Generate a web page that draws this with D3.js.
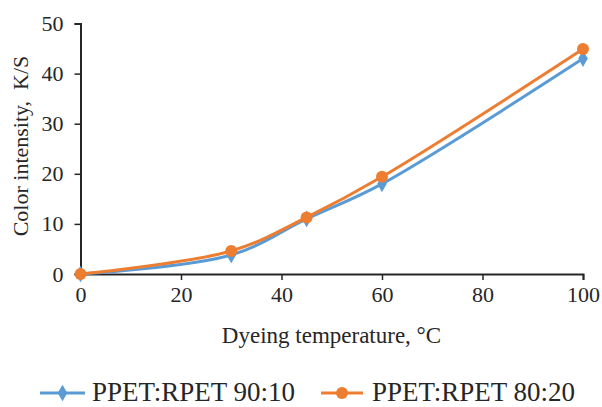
<!DOCTYPE html>
<html><head><meta charset="utf-8">
<script src="https://cdn.jsdelivr.net/npm/d3@7"></script>
<style>body{margin:0;background:#fff}svg{display:block}text{font-family:"Liberation Serif","Times New Roman",serif;fill:#262626}</style>
</head><body>
<svg id="c" width="602" height="407"></svg>
<script>
const temps = [0, 30, 45, 60, 100];
const series90 = [0, 3.8, 11.0, 18.0, 43.0];
const series80 = [0, 4.6, 11.3, 19.4, 44.9];
const seriesNames = ["PPET:RPET 90:10", "PPET:RPET 80:20"];
const xTicks = [0, 20, 40, 60, 80, 100];
const yTicks = [0, 10, 20, 30, 40, 50];
const xTitle = "Dyeing temperature, \u00B0C";
const yTitle = "Color intensity,\u00A0 K/S";

const svg = d3.select("#c");
const x = d3.scaleLinear().domain([0, 100]).range([80.5, 583]);
const y = d3.scaleLinear().domain([0, 50]).range([274, 23.5]);
const fs = 22;

const xAxis = svg.append("g").attr("transform", "translate(0,274)")
  .call(d3.axisBottom(x).tickValues(xTicks).tickSize(6).tickPadding(6));
const yAxis = svg.append("g").attr("transform", "translate(80.5,0)")
  .call(d3.axisLeft(y).tickValues(yTicks).tickSize(6).tickPadding(11));
[xAxis, yAxis].forEach(g => {
  g.selectAll("path.domain").attr("stroke", "#262626").attr("stroke-width", 2);
  g.selectAll(".tick line").attr("stroke", "#262626").attr("stroke-width", 1.5);
  g.selectAll(".tick text").style("font-family", "Liberation Serif").style("font-size", fs + "px").attr("fill", "#262626");
});

svg.append("text").attr("x", 331.5).attr("y", 343).attr("text-anchor", "middle").style("font-size", "23px").text(xTitle);
svg.append("text").attr("transform", "translate(28,146) rotate(-90)").attr("text-anchor", "middle").style("font-size", "22px").text(yTitle);

const colors = ["#5B9BD5", "#ED7D31"];
const data = [series90, series80];
const line = d3.line().x((d, i) => x(temps[i])).y(d => y(d)).curve(d3.curveCatmullRom.alpha(0.5));

data.forEach((s, k) => {
  svg.append("path").attr("d", line(s)).attr("fill", "none").attr("stroke", colors[k]).attr("stroke-width", 3);
});
const diamond = d3.symbol().type(d3.symbolDiamond).size(80);
svg.append("g").selectAll("path").data(series90).join("path")
  .attr("d", diamond).attr("transform", (d, i) => `translate(${x(temps[i])},${y(d)})`).attr("fill", colors[0]);
svg.append("g").selectAll("circle").data(series80).join("circle")
  .attr("cx", (d, i) => x(temps[i])).attr("cy", d => y(d)).attr("r", 6).attr("fill", colors[1]);

// legend
const lg = svg.append("g");
const ly = 393;
lg.append("line").attr("x1", 40).attr("x2", 85).attr("y1", ly).attr("y2", ly).attr("stroke", colors[0]).attr("stroke-width", 3);
lg.append("path").attr("d", diamond).attr("transform", `translate(62.5,${ly})`).attr("fill", colors[0]);
lg.append("text").attr("x", 92).attr("y", 401).style("font-size", "27px").text(seriesNames[0]);
lg.append("line").attr("x1", 321).attr("x2", 363).attr("y1", ly).attr("y2", ly).attr("stroke", colors[1]).attr("stroke-width", 3);
lg.append("circle").attr("cx", 342).attr("cy", ly).attr("r", 6).attr("fill", colors[1]);
lg.append("text").attr("x", 372).attr("y", 401).style("font-size", "27px").text(seriesNames[1]);
</script>
</body></html>
